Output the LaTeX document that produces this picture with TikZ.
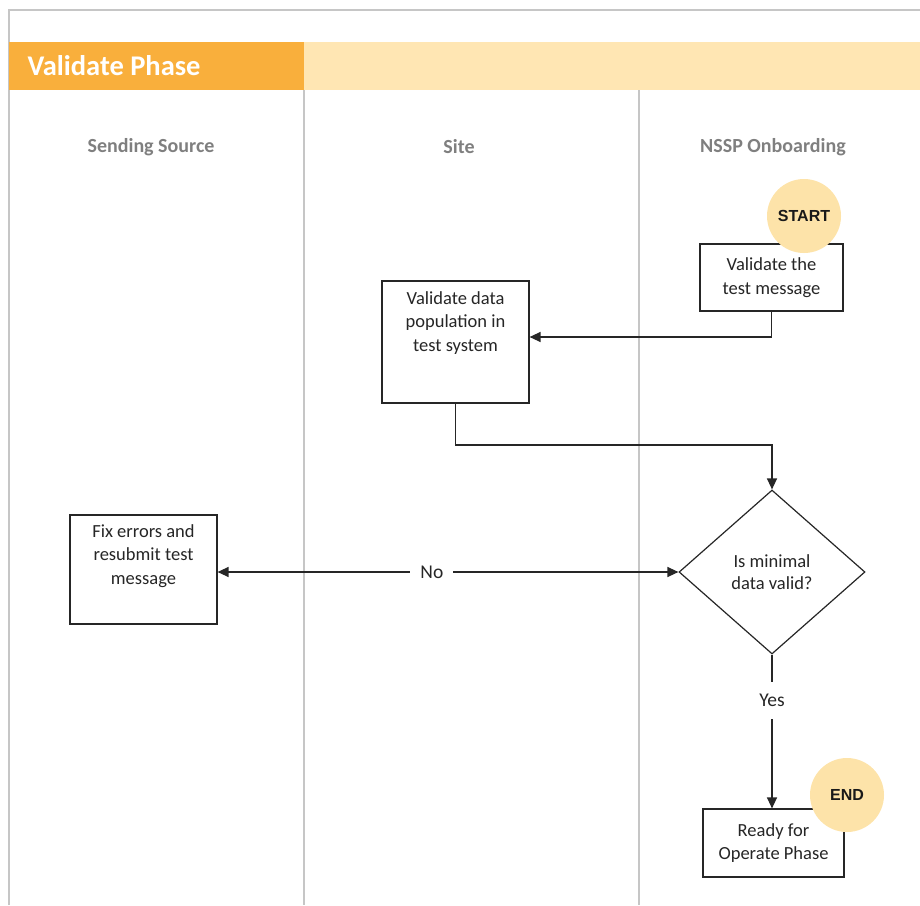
\documentclass[tikz,border=0pt]{standalone}
\usepackage{fontspec}
\setmainfont{Carlito}
\newfontfamily\arialf{Liberation Sans}
\usetikzlibrary{shapes.geometric,arrows.meta}
\definecolor{phaseDark}{HTML}{F9AF3C}
\definecolor{phaseLight}{HTML}{FFE6B3}
\definecolor{laneGray}{HTML}{C6C6C6}
\definecolor{titleGray}{HTML}{7F7F7F}
\definecolor{termFill}{HTML}{FDE3A9}
\definecolor{edgeC}{HTML}{262626}
\tikzset{
  procbox/.style={draw=edgeC, line width=1.2pt, fill=white, rectangle, inner sep=0pt},
  boxtext/.style={align=center, font=\fontsize{18.5}{23.5}\selectfont, text=black!85, inner sep=0pt},
  term/.style={circle, fill=termFill, minimum size=74pt, inner sep=0pt,
    font=\arialf\bfseries\fontsize{16}{18}\selectfont, text=black!90},
  decision/.style={diamond, draw=edgeC, line width=1.2pt, fill=white, minimum width=186pt,
    minimum height=164pt, inner sep=0pt, align=center, font=\fontsize{18.5}{22}\selectfont, text=black!85},
  flow/.style={draw=edgeC, line width=1.3pt, -{Triangle[length=11pt,width=10pt]}},
  lane/.style={draw=laneGray, line width=2pt},
  lanetitle/.style={font=\bfseries\fontsize{20}{23}\selectfont, text=titleGray},
  edgelabel/.style={fill=white, font=\fontsize{19.5}{22}\selectfont, text=black!85}
}
\begin{document}
\begin{tikzpicture}[x=1pt,y=-1pt]
\useasboundingbox (0,0) rectangle (920,905);
% frame and lanes
\draw[lane] (9,905) -- (9,10) -- (920,10);
\draw[lane] (304,90) -- (304,905);
\draw[lane] (639,90) -- (639,905);
% header
\fill[phaseDark] (9,42) rectangle (304,90);
\fill[phaseLight] (304,42) rectangle (920,90);
\node[anchor=west, text=white, font=\bfseries\fontsize{28.5}{31}\selectfont] (phase) at (24,66) {Validate Phase};
% lane titles
\node[lanetitle] (t1) at (151,147) {Sending Source};
\node[lanetitle] (t2) at (459,147) {Site};
\node[lanetitle] (t3) at (773,147) {NSSP Onboarding};
% boxes
\node[procbox, boxtext, minimum width=143pt, minimum height=67pt] (b1) at (771.5,277.5) {Validate the\\test message};
\node[procbox, minimum width=147pt, minimum height=122pt] (b2) at (455.5,342) {};
\node[boxtext] (b2t) at (455.5,323) {Validate data\\population in\\test system};
\node[procbox, minimum width=147pt, minimum height=109pt] (b3) at (143.5,569.5) {};
\node[boxtext] (b3t) at (143.5,556) {Fix errors and\\resubmit test\\message};
\node[decision] (dia) at (772,572) {Is minimal\\data valid?};
\node[procbox, boxtext, minimum width=141pt, minimum height=68pt] (b4) at (773.5,843) {Ready for\\Operate Phase};
% connectors
\draw[flow] (b1.south) |- (b2.east |- 0,337);
\draw[flow] (b2.south) -- (b2.south |- 0,445) -| (dia.north);
\draw[flow, {Triangle[length=11pt,width=10pt]}-{Triangle[length=11pt,width=10pt]}] (b3.east |- dia.west) -- (dia.west)
  node[edgelabel, pos=0.465, inner xsep=10pt, inner ysep=4pt] (no) {No};
\draw[flow] (dia.south) -- (dia.south |- b4.north)
  node[edgelabel, pos=0.30, inner xsep=4pt, inner ysep=12pt] (yes) {Yes};
% terminators
\node[term] (start) at (804,216) {START};
\node[term] (end) at (847,795) {END};
\end{tikzpicture}
\end{document}
